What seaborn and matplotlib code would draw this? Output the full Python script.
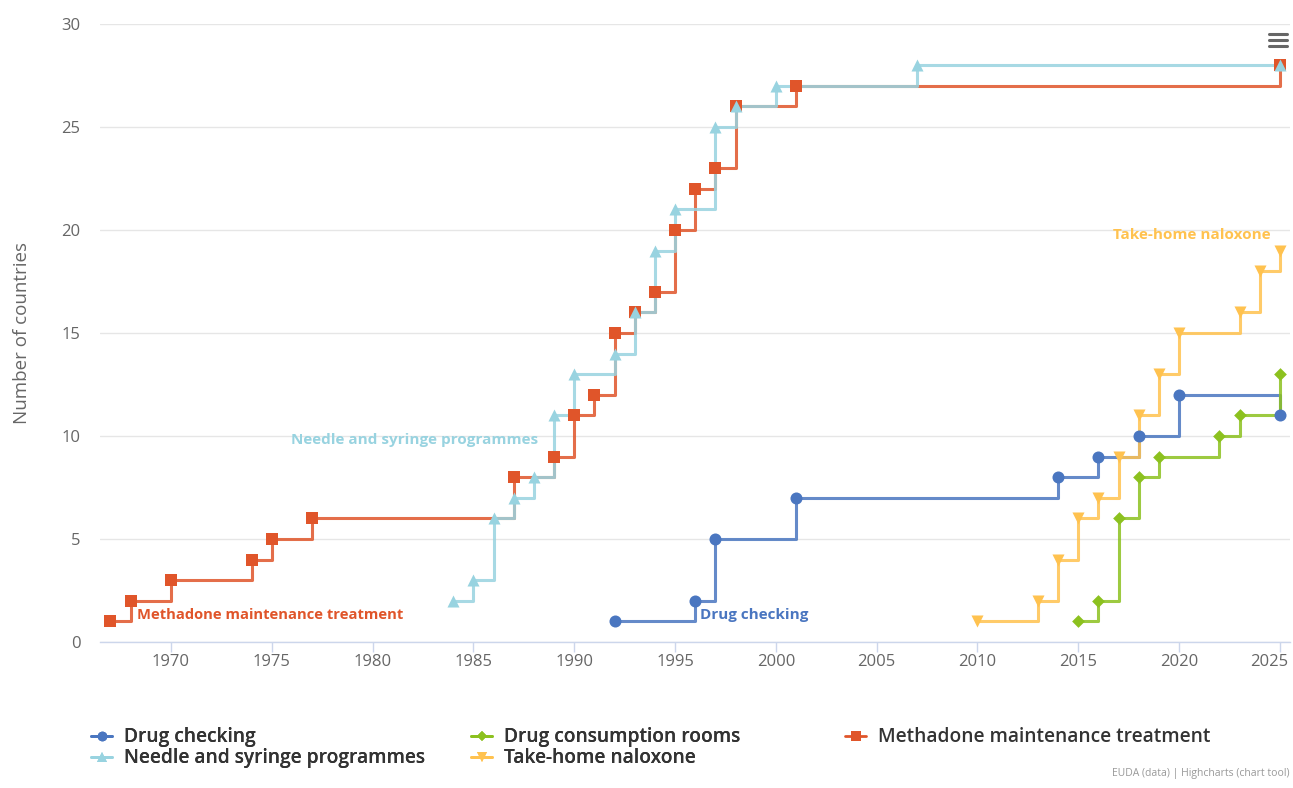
import numpy as np
import pandas as pd
import matplotlib.pyplot as plt
from matplotlib.lines import Line2D
from matplotlib.transforms import ScaledTranslation
import seaborn as sb

# data (year, number of countries)
dc_years = [1992, 1996, 1997, 2001, 2014, 2016, 2018, 2020, 2025]
dc_counts = [1, 2, 5, 7, 8, 9, 10, 12, 11]

dcr_years = [2015, 2016, 2017, 2018, 2019, 2022, 2023, 2025]
dcr_counts = [1, 2, 6, 8, 9, 10, 11, 13]

mmt_years = [1967, 1968, 1970, 1974, 1975, 1977, 1987, 1989, 1990, 1991, 1992,
             1993, 1994, 1995, 1996, 1997, 1998, 2001, 2025]
mmt_counts = [1, 2, 3, 4, 5, 6, 8, 9, 11, 12, 15, 16, 17, 20, 22, 23, 26, 27, 28]

nsp_years = [1984, 1985, 1986, 1987, 1988, 1989, 1990, 1992, 1993, 1994, 1995,
             1997, 1998, 2000, 2007, 2025]
nsp_counts = [2, 3, 6, 7, 8, 11, 13, 14, 16, 19, 21, 25, 26, 27, 28, 28]

thn_years = [2010, 2013, 2014, 2015, 2016, 2017, 2018, 2019, 2020, 2023, 2024, 2025]
thn_counts = [1, 2, 4, 6, 7, 9, 11, 13, 15, 16, 18, 19]

series_names = ['Drug checking', 'Drug consumption rooms', 'Methadone maintenance treatment',
                'Needle and syringe programmes', 'Take-home naloxone']
series_data = [(dc_years, dc_counts), (dcr_years, dcr_counts), (mmt_years, mmt_counts),
               (nsp_years, nsp_counts), (thn_years, thn_counts)]
colors = ['#4a76c0', '#8cc11f', '#e0552a', '#98d3e0', '#ffc24f']
markers = ['o', 'D', 's', '^', 'v']
marker_sizes = [75, 42, 85, 75, 75]

sb.set_style('white')
plt.rcParams['font.family'] = ['Open Sans', 'DejaVu Sans']

fig = plt.figure(figsize=(12.93, 7.88), dpi=100)
ax = fig.add_axes([0.0773, 0.1853, 0.9204, 0.7842])

for i, name in enumerate(series_names):
    df = pd.DataFrame({'year': series_data[i][0], 'countries': series_data[i][1]})
    sb.lineplot(data=df, x='year', y='countries', ax=ax, color=colors[i],
                drawstyle='steps-post', linewidth=2.2, alpha=0.85, zorder=2 + i)
    sb.scatterplot(data=df, x='year', y='countries', ax=ax, color=colors[i],
                   marker=markers[i], s=marker_sizes[i], linewidth=0, zorder=10 + i)

ax.set_xlim(1966.48, 2025.5)
ax.set_ylim(0, 30)
ax.set_xticks(np.arange(1970, 2026, 5))
ax.set_yticks(np.arange(0, 31, 5))
ax.yaxis.grid(True, color='#e6e6e6', linewidth=1)
ax.xaxis.grid(False)
for s in ['top', 'right', 'left']:
    ax.spines[s].set_visible(False)
ax.spines['bottom'].set_color('#ccd6eb')
ax.spines['bottom'].set_linewidth(1)
ax.tick_params(axis='x', direction='out', length=7, width=1, color='#ccd6eb',
               labelsize=12, labelcolor='#666666', pad=2, bottom=True)
ax.tick_params(axis='y', length=0, labelsize=12, labelcolor='#666666', pad=14)
ax.set_xlabel('')
ax.set_ylabel('Number of countries', fontsize=13.5, color='#666666', labelpad=22)

# keep the last year label inside the chart, like highcharts does
last = ax.get_xticklabels()[-1]
last.set_transform(last.get_transform() + ScaledTranslation(-8 / 72, 0, fig.dpi_scale_trans))

# series labels
ax.text(1968.3, 1.3, 'Methadone maintenance treatment', color=colors[2],
        fontsize=10.6, fontweight='bold', va='center', ha='left', zorder=20)
ax.text(1975.95, 9.8, 'Needle and syringe programmes', color=colors[3],
        fontsize=11, fontweight='bold', va='center', ha='left', zorder=20)
ax.text(1996.25, 1.3, 'Drug checking', color=colors[0],
        fontsize=11, fontweight='bold', va='center', ha='left', zorder=20)
ax.text(2016.7, 19.75, 'Take-home naloxone', color=colors[4],
        fontsize=11, fontweight='bold', va='center', ha='left', zorder=20)

# legend in three columns like the original
handles = [Line2D([0], [0], color=colors[i], marker=markers[i], linewidth=2,
                  markersize=7 if markers[i] != 'D' else 5, markeredgewidth=0)
           for i in range(5)]
columns = [[0, 3], [1, 4], [2]]
col_x = [0.0705, 0.3645, 0.6535]
for c, idx in enumerate(columns):
    leg = fig.legend([handles[k] for k in idx], [series_names[k] for k in idx],
                     loc='upper left', bbox_to_anchor=(col_x[c], 0.077), frameon=False,
                     fontsize=13.8, handlelength=1.1, handletextpad=0.6,
                     labelspacing=0.05, borderpad=0, borderaxespad=0)
    for t in leg.get_texts():
        t.set_color('#333333')
        t.set_fontweight('semibold')
    if c < 2:
        fig.add_artist(leg)

# credits
fig.text(0.997, 0.012, 'EUDA (data) | Highcharts (chart tool)', ha='right', va='bottom',
         fontsize=7.5, color='#999999')

# export menu icon
for yy in [34, 40, 46]:
    fig.add_artist(Line2D([1269 / 1293, 1287 / 1293], [1 - yy / 788, 1 - yy / 788],
                          color='#666666', linewidth=2.2, solid_capstyle='round'))

fig.savefig('out.png', dpi=100)
